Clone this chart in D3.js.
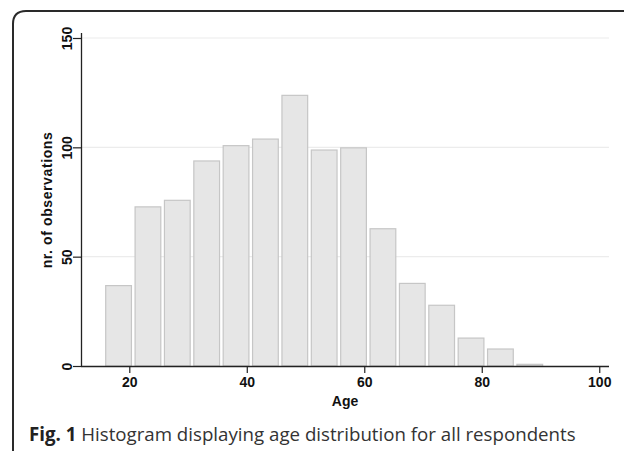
<!DOCTYPE html>
<html><head><meta charset="utf-8">
<script src="https://cdn.jsdelivr.net/npm/d3@7"></script>
<style>body{margin:0;background:#fff}svg{display:block}</style>
</head><body>
<svg id="c" width="624" height="451"></svg>
<script>
const binStarts = [15.9,20.9,25.9,30.9,35.9,40.9,45.9,50.9,55.9,60.9,65.9,70.9,75.9,80.9,85.9];
const counts    = [37,73,76,94,101,104,124,99,100,63,38,28,13,8,1];
const binWidth = 5;
const xTicks = [20,40,60,80,100];
const yTicks = [0,50,100,150];
const xTitle = "Age";
const yTitle = "nr. of observations";
const captionBold = "Fig. 1";
const captionText = " Histogram displaying age distribution for all respondents";

const svg = d3.select("#c");
const x = d3.scaleLinear().domain([11.78, 101.66]).range([81, 609]);
const y = d3.scaleLinear().domain([0, 150]).range([366, 38]);

// frame
svg.append("path")
  .attr("d", "M13,460 L13,24 Q13,11 26,11 L640,11")
  .attr("fill","none").attr("stroke","#2a2a2a").attr("stroke-width",2);

// grid
svg.append("g").selectAll("line").data(yTicks.filter(d=>d>0)).join("line")
  .attr("x1", 81).attr("x2", 609)
  .attr("y1", d=>y(d)).attr("y2", d=>y(d))
  .attr("stroke","#ececec").attr("stroke-width",1.2);

// bars
svg.append("g").selectAll("rect").data(binStarts).join("rect")
  .attr("x", d=>x(d)+0.5)
  .attr("width", (d)=>x(d+binWidth*0.91)-x(d)-1)
  .attr("y", (d,i)=>y(counts[i])+0.5)
  .attr("height", (d,i)=>Math.max(0, y(0)-y(counts[i])-0.5))
  .attr("fill","#e6e6e6").attr("stroke","#c6c6c6").attr("stroke-width",1.2);

// axes
const font = "'Liberation Sans', Arial, sans-serif";
const xa = svg.append("g").attr("transform","translate(0,366)")
  .call(d3.axisBottom(x).tickValues(xTicks).tickSize(7).tickPadding(4).tickSizeOuter(0));
const ya = svg.append("g").attr("transform","translate(81,0)")
  .call(d3.axisLeft(y).tickValues(yTicks).tickSize(8).tickSizeOuter(0));
[xa, ya].forEach(a=>{
  a.select(".domain").attr("stroke","#222").attr("stroke-width",1.3);
  a.selectAll(".tick line").attr("stroke","#222").attr("stroke-width",1.2);
  a.selectAll("text").attr("fill","#111").style("font-family",font).style("font-size","14px").style("font-weight","bold");
});
xa.select(".domain").attr("d","M81,0.5H609");
ya.select(".domain").attr("d","M0.5,33V366");
ya.selectAll(".tick text")
  .attr("x", null).attr("dy", null)
  .attr("text-anchor","middle")
  .attr("transform","translate(-9,0) rotate(-90)")
  .attr("y", 0);

svg.append("text").attr("x",345).attr("y",406).attr("text-anchor","middle")
  .style("font-family",font).style("font-size","14px").style("font-weight","bold").attr("fill","#111").text(xTitle);
svg.append("text").attr("transform","translate(52,200) rotate(-90)").attr("text-anchor","middle")
  .style("font-family",font).style("font-size","14px").style("font-weight","bold")
  .style("letter-spacing","0.6px").attr("fill","#111").text(yTitle);

const cap = svg.append("text").attr("x",29).attr("y",441)
  .style("font-family","'Open Sans', sans-serif").style("font-size","18.7px").attr("fill","#222");
cap.append("tspan").style("font-weight","bold").text(captionBold);
cap.append("tspan").attr("fill","#333").text(captionText);
</script>
</body></html>
